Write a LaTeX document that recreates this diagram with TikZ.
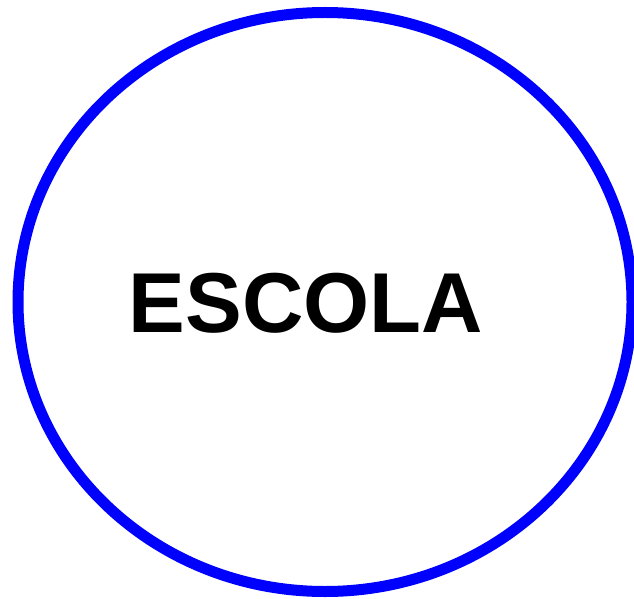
\documentclass[tikz,border=0pt]{standalone}
\usepackage{fontspec}
\setmainfont{Liberation Sans}
\usetikzlibrary{shapes.geometric}
\definecolor{ringblue}{RGB}{0,0,255}
\tikzset{ring/.style={draw=ringblue,line width=11pt},
  titletext/.style={font=\fontsize{85}{92}\selectfont\bfseries,inner sep=0pt,anchor=base}}
\begin{document}
\begin{tikzpicture}[x=1pt,y=1pt]
\useasboundingbox (0,0) rectangle (634,598);
\node[ring,ellipse,minimum width=614pt,minimum height=579pt,inner sep=0pt] (e) at (325,296) {};
\node[titletext] (t) at (306,266) {ESCOLA};
\end{tikzpicture}
\end{document}
